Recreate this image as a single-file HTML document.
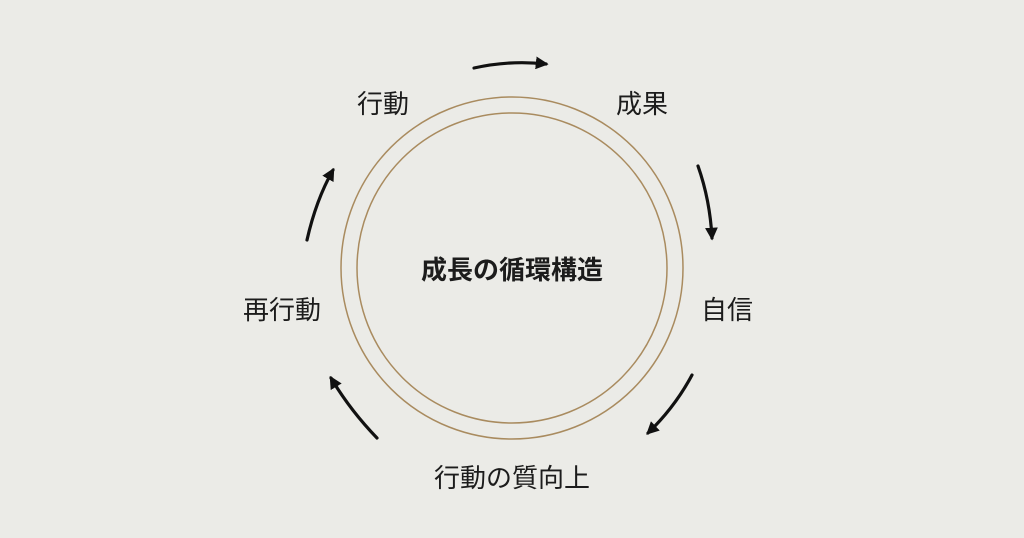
<!DOCTYPE html>
<html><head><meta charset="utf-8"><style>
html,body{margin:0;padding:0;background:#ebebe7;}
svg{display:block}
text{font-family:"Liberation Sans","Noto Sans CJK JP",sans-serif;fill:#1c1c1c}
</style></head><body>
<svg width="1024" height="538" viewBox="0 0 1024 538" xmlns="http://www.w3.org/2000/svg">
<defs>
<marker id="ah" viewBox="0 0 10 10" refX="8" refY="5" markerWidth="4" markerHeight="4" orient="auto">
<path d="M0,0 L10,5 L0,10 Z" fill="#111"/>
</marker>
</defs>
<rect width="1024" height="538" fill="#ebebe7"/>
<circle cx="512" cy="268" r="171" fill="none" stroke="#a98b5f" stroke-width="1.5"/>
<circle cx="512" cy="268" r="155" fill="none" stroke="#a98b5f" stroke-width="1.5"/>
<g fill="none" stroke="#111" stroke-width="3.2" stroke-linecap="round" marker-end="url(#ah)">
<path d="M474,68 Q510,60 546,64"/>
<path d="M698,166 Q710,200 712,238"/>
<path d="M692,375 Q675,407 648,433"/>
<path d="M377,438 Q350,410 331,378"/>
<path d="M307,240 Q316,200 333,170"/>
</g>
<g font-size="26" text-anchor="middle">
<text x="383" y="113">行動</text>
<text x="642" y="113">成果</text>
<text x="727" y="319">自信</text>
<text x="282" y="319">再行動</text>
<text x="512" y="487">行動の質向上</text>
</g>
<text x="512" y="279" font-size="26" font-weight="bold" text-anchor="middle">成長の循環構造</text>
</svg>
</body></html>
